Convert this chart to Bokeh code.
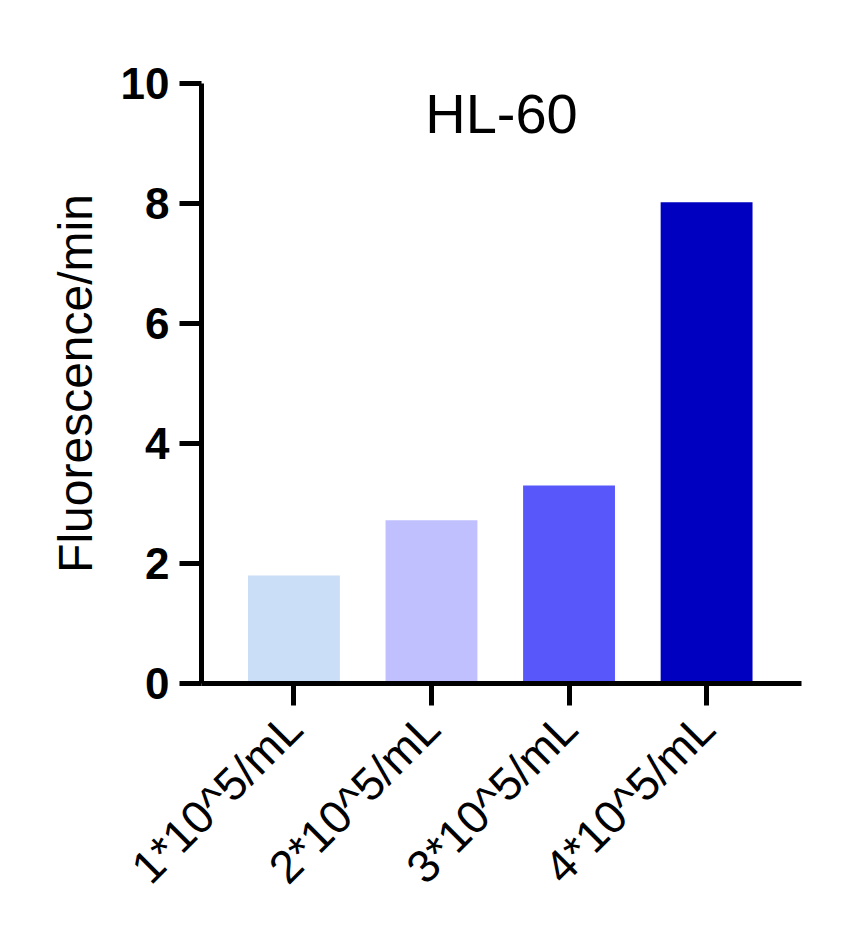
from bokeh.plotting import figure
from bokeh.models import FixedTicker, Label, ColumnDataSource, Range1d
from bokeh.embed import file_html
from bokeh.resources import INLINE
import math

# Data
categories = ["1*10^5/mL", "2*10^5/mL", "3*10^5/mL", "4*10^5/mL"]
positions = [1, 2, 3, 4]
values = [1.80, 2.72, 3.30, 8.02]
colors = ["#CADEF8", "#C0C0FE", "#5858FA", "#0000C0"]
y_ticks = [0, 2, 4, 6, 8, 10]
title_text = "HL-60"
y_label = "Fluorescence/min"

FONT = "Liberation Sans"

x_start, x_end = 0.328, 4.69
p = figure(width=835, height=923, output_backend="svg", toolbar_location=None,
           x_range=Range1d(x_start, x_end), y_range=Range1d(0, 10),
           min_border_left=201, min_border_right=34, min_border_top=83, min_border_bottom=240)
p.outline_line_color = None
p.xgrid.visible = False
p.ygrid.visible = False
p.background_fill_color = "white"
p.border_fill_color = "white"

src = ColumnDataSource(dict(x=positions, top=values, color=colors))
p.vbar(x="x", top="top", width=0.668, bottom=0, fill_color="color", line_color=None, source=src)

# Y axis
ya = p.yaxis[0]
ya.ticker = FixedTicker(ticks=y_ticks)
ya.axis_line_width = 5
ya.major_tick_line_width = 5
ya.major_tick_in = 0
ya.major_tick_out = 22
ya.minor_tick_line_color = None
ya.major_label_text_font = FONT
ya.major_label_text_font_style = "bold"
ya.major_label_text_font_size = "44px"
ya.major_label_text_color = "black"
ya.major_label_standoff = 10
ya.axis_label = y_label
ya.axis_label_text_font = FONT
ya.axis_label_text_font_style = "normal"
ya.axis_label_text_font_size = "48px"
ya.axis_label_text_color = "black"
ya.axis_label_standoff = 16

# X axis
xa = p.xaxis[0]
xa.ticker = FixedTicker(ticks=positions)
xa.major_label_overrides = {pos: lab for pos, lab in zip(positions, categories)}
xa.axis_line_width = 5
xa.major_tick_line_width = 5
xa.major_tick_in = 0
xa.major_tick_out = 22
xa.minor_tick_line_color = None
xa.major_label_orientation = math.pi / 4
xa.major_label_text_font = FONT
xa.major_label_text_font_size = "46px"
xa.major_label_text_color = "black"
xa.major_label_standoff = 15

# Title inside plot area
title = Label(x=(x_start + x_end) / 2, y=10, text=title_text, text_align="center",
              text_baseline="top", text_font=FONT, text_font_size="56px",
              text_color="black", y_offset=2)
p.add_layout(title)

open("out.html", "w").write(file_html(p, INLINE))
